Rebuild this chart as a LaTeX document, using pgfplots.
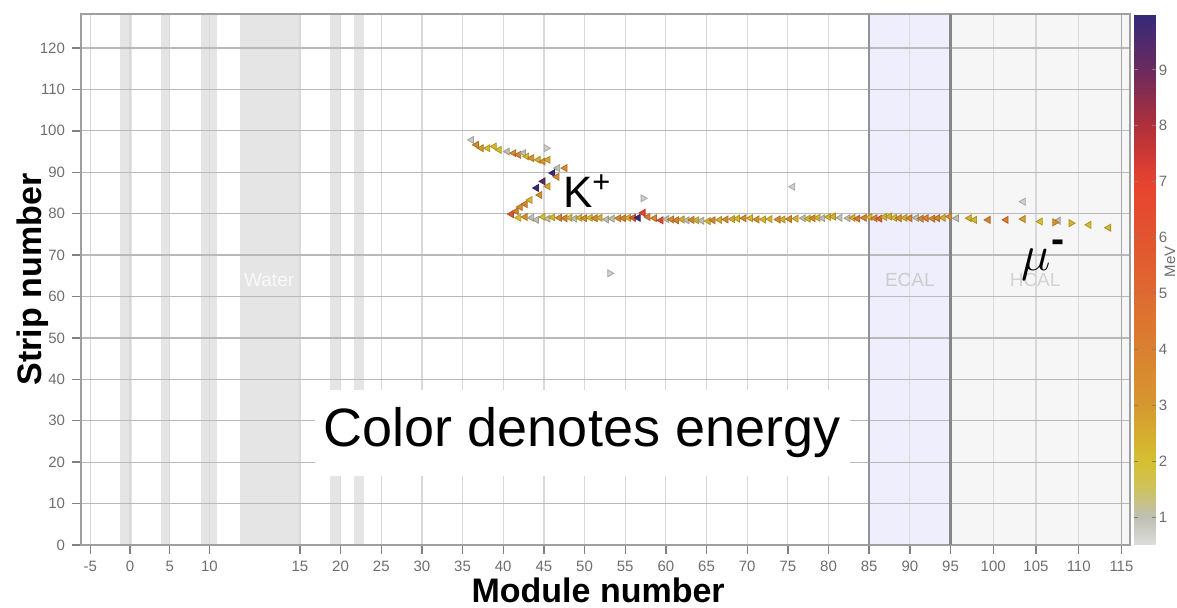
\documentclass[border=0pt]{standalone}
\usepackage{pgfplots}
\usepackage{pgfplotstable}
\pgfplotsset{compat=1.18}
\usepackage{fontspec}
\setmainfont{Liberation Sans}
\definecolor{ecalfill}{RGB}{238,238,252}
\definecolor{tickgray}{RGB}{110,110,110}
\pgfplotsset{colormap={energy}{rgb255(1)=(220,220,220) rgb255(2)=(192,192,180) rgb255(3)=(205,194,96) rgb255(4)=(214,192,48) rgb255(6)=(214,152,46) rgb255(8)=(218,128,48) rgb255(10)=(222,106,48) rgb255(12)=(226,84,48) rgb255(14)=(232,66,48) rgb255(16)=(176,48,58) rgb255(18)=(108,42,94) rgb255(20)=(52,42,122)}}

% hits pointing left: module, strip, energy (MeV)
\pgfplotstableread{
x y E
36.1 97.8 0.8
36.7 96.6 3.6
37.3 95.8 3.0
38.1 95.8 2.1
38.9 96.2 2.2
39.5 95.4 2.0
40.5 95.0 1.0
41.3 94.6 3.4
41.9 94.2 3.8
42.5 94.6 1.0
42.9 93.8 2.2
43.5 93.4 3.2
44.3 93.0 2.4
44.9 92.6 3.3
45.5 93.0 2.6
46.7 91.0 1.0
47.6 91.0 3.6
41.0 79.9 5.8
41.6 80.6 4.0
42.1 81.6 3.3
42.7 82.3 3.8
43.3 83.3 2.2
44.5 84.5 3.4
44.1 86.2 9.9
45.5 86.6 2.6
44.9 87.8 9.3
46.1 89.8 9.9
46.6 88.9 3.5
41.9 79.0 2.0
42.7 79.2 3.4
43.5 79.0 1.0
44.1 78.5 1.0
44.9 79.2 2.1
45.5 78.8 1.2
46.1 79.1 2.2
46.9 79.0 3.5
47.6 78.9 4.0
48.2 79.0 2.2
48.8 78.8 1.0
49.4 79.0 2.3
50.0 78.9 3.4
50.7 79.0 2.2
51.3 78.9 3.6
51.9 79.0 2.4
52.7 78.6 1.0
53.4 78.8 1.1
54.2 78.9 3.5
54.8 78.9 3.8
55.4 79.0 2.4
56.0 79.0 5.5
56.6 79.0 9.9
57.2 80.2 6.8
57.8 79.2 4.2
58.6 78.9 3.6
59.4 78.4 6.8
60.1 78.7 1.0
60.7 78.6 3.4
61.3 78.4 3.9
62.0 78.6 2.4
62.6 78.4 1.0
63.2 78.5 3.6
63.8 78.4 2.3
64.4 78.3 1.0
65.2 78.2 2.2
65.8 78.4 3.8
66.6 78.5 2.4
67.4 78.6 3.5
68.2 78.7 2.4
68.8 78.8 2.2
69.6 78.9 3.6
70.4 78.9 2.3
71.2 78.6 3.4
72.0 78.6 2.2
72.8 78.7 2.3
73.8 78.6 3.5
74.4 78.6 2.4
75.2 78.7 3.6
76.0 78.8 2.3
76.9 78.9 1.0
77.5 78.8 2.2
78.1 78.9 3.5
78.7 79.0 2.3
79.3 78.9 1.0
80.0 79.2 2.2
80.6 79.3 2.4
81.4 79.0 1.0
82.4 78.9 1.0
83.0 79.0 2.4
83.6 78.8 4.4
84.4 79.0 3.8
85.1 79.2 2.3
85.7 78.9 3.6
86.3 78.8 5.5
86.9 79.2 2.2
87.5 79.3 2.4
88.1 79.0 2.2
88.7 78.9 3.5
89.4 79.0 2.4
90.0 78.9 3.8
90.8 79.0 1.0
91.4 78.8 3.6
92.0 78.9 3.9
92.8 78.8 3.5
93.4 78.9 4.0
94.1 79.0 2.5
94.9 79.3 3.4
95.7 78.9 1.0
97.2 78.9 2.3
97.8 78.5 2.2
99.4 78.5 3.9
101.5 78.5 4.2
103.5 78.7 2.8
105.5 78.1 2.0
107.6 78.3 1.0
111.2 77.3 2.1
113.5 76.6 2.2
75.6 86.5 0.7
103.5 82.9 0.7
}\hitsleft

% hits pointing right
\pgfplotstableread{
x y E
107.2 77.9 3.2
109.1 77.7 2.3
45.3 95.8 0.7
57.2 83.7 0.7
53.1 65.6 0.7
}\hitsright

\begin{document}
\begin{tikzpicture}
\begin{axis}[
  set layers,
  scale only axis,
  width=524.5pt, height=265.5pt,
  x coord trafo/.code={\pgfmathparse{((#1)<=10)?(130+7.95*(#1)):(((#1)<15)?(209.5+18.1*((#1)-10)):(((#1)<=95)?(300+8.134*((#1)-15)):(950.7+8.55*((#1)-95))))}},
  xmin=-6.16, xmax=116, ymin=0, ymax=128.2,
  xtick={-5,0,5,10,15,20,25,30,35,40,45,50,55,60,65,70,75,80,85,90,95,100,105,110,115},
  xticklabels={-5,0,5,10,15,20,25,30,35,40,45,50,55,60,65,70,75,80,85,90,95,100,105,110,115},
  ytick={0,10,...,120},
  xtick pos=left, ytick pos=left,
  tick align=outside, major tick length=4.5pt,
  tick style={gray, line width=0.7pt},
  grid=major,
  major x grid style={gray!30, line width=0.6pt},
  major y grid style={gray!55, line width=0.6pt},
  axis line style={gray!75, line width=0.9pt},
  /pgf/number format/assume math mode=true,
  ticklabel style={font=\fontsize{7.5}{9}\selectfont, text=tickgray},
  xlabel={Module number}, ylabel={Strip number},
  label style={font=\fontsize{17}{20}\selectfont\bfseries},
  xlabel style={at={(axis description cs:0.493,0)}, anchor=center, yshift=-22.5pt},
  ylabel style={at={(axis description cs:-0.0458,0.5)}, anchor=center},
  colormap name=energy,
  point meta min=0.5, point meta max=10,
  colorbar,
  colorbar style={
    at={(parent axis.north east)}, anchor=north west, xshift=-6.5pt,
    width=10.8pt,
    ytick={1,2,3,4,5,6,7,8,9},
    axis line style={draw=none},
    major tick length=2pt, tick style={gray, line width=0.5pt},
    /pgf/number format/assume math mode=true,
    yticklabel style={font=\fontsize{7.5}{9}\selectfont, text=tickgray, xshift=-2pt},
  },
]
% detector regions (background)
\addplot[on layer=axis background, forget plot, fill=gray!20, draw=none] coordinates {(-1.2,128.2) (0.25,128.2)} \closedcycle;
\addplot[on layer=axis background, forget plot, fill=gray!20, draw=none] coordinates {(3.9,128.2) (5.0,128.2)} \closedcycle;
\addplot[on layer=axis background, forget plot, fill=gray!20, draw=none] coordinates {(9.0,128.2) (10.43,128.2)} \closedcycle;
\addplot[on layer=axis background, forget plot, fill=gray!20, draw=none] coordinates {(11.7,128.2) (15,128.2)} \closedcycle;
\addplot[on layer=axis background, forget plot, fill=gray!20, draw=none] coordinates {(18.65,128.2) (20.07,128.2)} \closedcycle;
\addplot[on layer=axis background, forget plot, fill=gray!20, draw=none] coordinates {(21.6,128.2) (22.9,128.2)} \closedcycle;
\addplot[on layer=axis background, forget plot, fill=ecalfill, draw=none] coordinates {(85,128.2) (95,128.2)} \closedcycle;
\addplot[on layer=axis background, forget plot, fill=gray!7, draw=none] coordinates {(95,128.2) (116,128.2)} \closedcycle;
\addplot[forget plot, gray!85, line width=1pt] coordinates {(85,0) (85,128.2)};
\addplot[forget plot, gray!95, line width=1.1pt] coordinates {(95,0) (95,128.2)};
\addplot[forget plot, gray!70, line width=0.8pt] coordinates {(115,0) (115,128.2)};
% hits
\addplot[scatter, only marks, mark=triangle*, mark size=2pt,
  mark options={rotate=90}, point meta=explicit]
  table[x=x, y=y, meta=E] {\hitsleft};
\addplot[scatter, only marks, mark=triangle*, mark size=2pt,
  mark options={rotate=-90}, point meta=explicit]
  table[x=x, y=y, meta=E] {\hitsright};
% annotations
\node[text=gray!5, font=\fontsize{9.5}{11}\selectfont] at (axis cs:13.3,64) {Water};
\node[text=gray!40, font=\fontsize{9.5}{11}\selectfont] at (axis cs:90,64) {ECAL};
\node[text=gray!35, font=\fontsize{9.5}{11}\selectfont] at (axis cs:104.9,64) {HCAL};
\node[anchor=base west, inner sep=0pt, font=\fontsize{22}{26}\selectfont] at (axis cs:47.3,81.4) {K\textsuperscript{+}};
\node[anchor=base west, inner sep=0pt, font=\fontsize{28}{32}\selectfont] at (axis cs:103.3,66.2) {$\mu$\textsuperscript{\textbf{-}}};
\node[fill=white, inner sep=0pt, minimum width=267.5pt, minimum height=43pt, font=\fontsize{27}{30}\selectfont] at (axis cs:49.7,27.05) {Color denotes energy};
\end{axis}
\node[rotate=90, inner sep=0pt, text=tickgray, font=\fontsize{7.5}{9}\selectfont] at (544.5pt,141.5pt) {MeV};
\pgfresetboundingbox
\path[use as bounding box] (-40.5pt,-31pt) rectangle (548pt,272.5pt);
\end{tikzpicture}
\end{document}
